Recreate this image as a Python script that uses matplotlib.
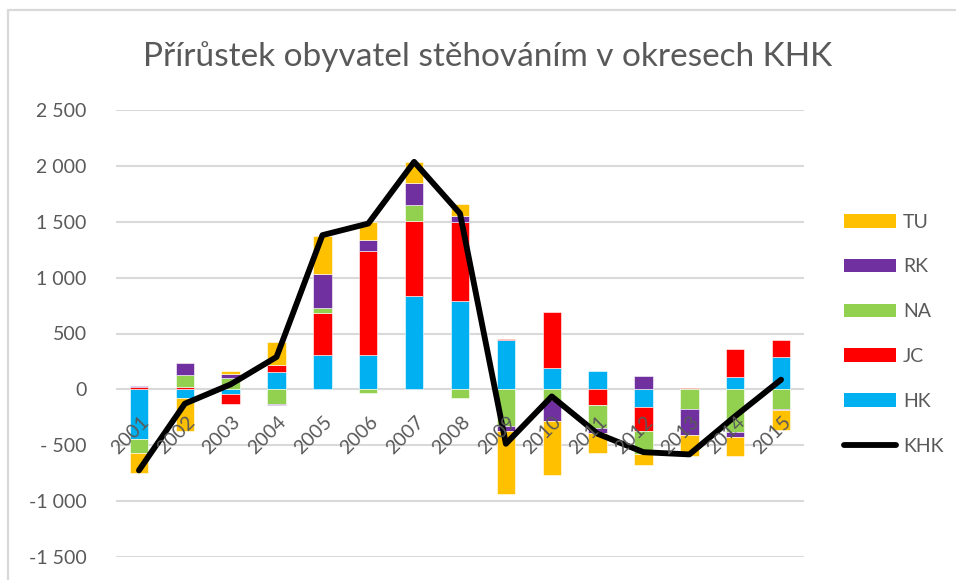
import matplotlib
matplotlib.use("Agg")
import matplotlib.pyplot as plt
import numpy as np
from matplotlib.patches import Patch, Rectangle
from matplotlib.lines import Line2D
import matplotlib.transforms as mtransforms

years = ["2001", "2002", "2003", "2004", "2005", "2006", "2007", "2008",
         "2009", "2010", "2011", "2012", "2013", "2014", "2015"]
HK = [-448, -81, -39, 158, 305, 307, 836, 788, 439, 188, 167, -158, 0, 108, 287]
JC = [20, 25, -89, 57, 379, 932, 669, 714, 15, 505, -143, -218, 15, 257, 158]
NA = [-122, 107, 99, -128, 48, -30, 143, -80, -331, -99, -200, -206, -179, -385, -179]
RK = [10, 108, 35, -12, 298, 96, 200, 51, -45, -185, -48, 116, -230, -45, -9]
TU = [-180, -292, 33, 206, 341, 167, 188, 104, -556, -484, -176, -96, -188, -164, -176]
KHK = [-725, -128, 45, 290, 1380, 1484, 2036, 1574, -487, -63, -397, -562, -582, -240, 87]

series_names = ["HK", "JC", "NA", "RK", "TU"]
series_vals = [HK, JC, NA, RK, TU]
series_colors = ["#00B0F0", "#FF0000", "#92D050", "#7030A0", "#FFC000"]

yticks = [-1500, -1000, -500, 0, 500, 1000, 1500, 2000, 2500]
ytick_labels = ["-1 500", "-1 000", "- 500", "0", "500", "1 000", "1 500", "2 000", "2 500"]

FONT = "Lato"
GREY = "#595959"
GRID = "#D9D9D9"

W, H = 956, 580
fig = plt.figure(figsize=(W / 100, H / 100), dpi=100)
fig.patch.set_facecolor("white")

# chart border (cropped at right/bottom)
fig.add_artist(Rectangle((8 / W, -0.1), 1.2, 1 - 10 / H + 0.1, transform=fig.transFigure,
                         fill=False, edgecolor=GRID, linewidth=1.6))

left, right = 116 / W, 804 / W
top, bottom = 1 - 110 / H, 1 - 557 / H
ax = fig.add_axes([left, bottom, right - left, top - bottom])

x = np.arange(len(years))
pos_base = np.zeros(len(years))
neg_base = np.zeros(len(years))
bw = 0.40
for name, vals, col in zip(series_names, series_vals, series_colors):
    v = np.array(vals, dtype=float)
    base = np.where(v >= 0, pos_base, neg_base)
    ax.bar(x, v, bw, bottom=base, color=col, edgecolor="white", linewidth=0.4, zorder=2)
    pos_base += np.where(v >= 0, v, 0)
    neg_base += np.where(v < 0, v, 0)

ax.plot(x, KHK, color="black", linewidth=4.2, solid_joinstyle="round",
        solid_capstyle="round", zorder=3)

ax.set_xlim(-0.5, len(years) - 0.5)
ax.set_ylim(-1500, 2500)
ax.set_yticks(yticks)
ax.set_yticklabels(ytick_labels, fontsize=14, color=GREY, family=FONT)
ax.tick_params(axis="y", length=0, pad=21)
ax.set_xticks([])
for s in ax.spines.values():
    s.set_visible(False)
ax.grid(axis="y", color=GRID, linewidth=1.5, zorder=0)
ax.set_axisbelow(True)

# category labels near the zero line
offset = mtransforms.offset_copy(ax.transData, fig=fig, x=7, y=-30, units="dots")
for xi, lab in zip(x, years):
    ax.text(xi, 0, lab, transform=offset, rotation=45, rotation_mode="anchor",
            ha="right", va="center", fontsize=14, color=GREY, family=FONT, zorder=4)

# title
fig.text(488 / W, 1 - 57 / H, "Přírůstek obyvatel stěhováním v okresech KHK",
         ha="center", va="center", fontsize=24, color=GREY, family=FONT,
         fontweight="normal")

# legend
handles = [Patch(facecolor=c) for c in ["#FFC000", "#7030A0", "#92D050", "#FF0000", "#00B0F0"]]
handles.append(Line2D([0], [0], color="black", linewidth=4.2, solid_capstyle="round"))
labels = ["TU", "RK", "NA", "JC", "HK", "KHK"]
leg = fig.legend(handles, labels, loc="upper left", bbox_to_anchor=(826 / W, 1 - 196 / H),
                 frameon=False, prop={"family": FONT, "size": 14},
                 handlelength=2.7, handleheight=0.7, labelspacing=1.43,
                 handletextpad=0.35, labelcolor=GREY)

fig.savefig("out.png", dpi=100, facecolor="white")
